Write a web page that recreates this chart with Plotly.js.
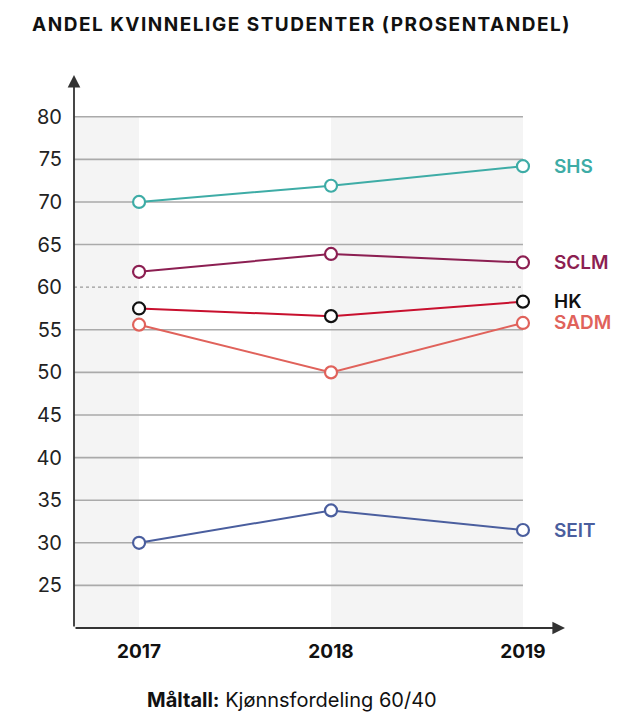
<!DOCTYPE html>
<html><head><meta charset="utf-8">
<script src="https://cdn.plot.ly/plotly-3.0.1.min.js"></script>
<style>html,body{margin:0;padding:0;background:#fff}#chart{width:634px;height:713px}
#chart .gtitle{letter-spacing:1.5px}</style>
</head><body><div id="chart"></div>
<script>
const years = [2017, 2018, 2019];
const seriesNames = ["SHS", "SCLM", "HK", "SADM", "SEIT"];
const shs  = [70.0, 71.9, 74.2];
const sclm = [61.8, 63.9, 62.9];
const hk   = [57.5, 56.6, 58.3];
const sadm = [55.6, 50.0, 55.8];
const seit = [30.0, 33.8, 31.5];
const yTicks = [25, 30, 35, 40, 45, 50, 55, 60, 65, 70, 75, 80];
const targetValue = 60;
const titleText = "ANDEL KVINNELIGE STUDENTER (PROSENTANDEL)";
const noteText = "<b>Måltall:</b> Kjønnsfordeling 60/40";

const lineColors = ["#3eaca6", "#8c1f52", "#c8102e", "#e0625b", "#4a5e9e"];
const markerColors = ["#3eaca6", "#8c1f52", "#111111", "#e0625b", "#4a5e9e"];
const allVals = [shs, sclm, hk, sadm, seit];

const xMin = 2016.661, xMax = 2019.219, yMin = 20, yMax = 84.9;
const font = "Inter, 'Liberation Sans', Arial, sans-serif";

const traces = allVals.map((v, i) => ({
  type: "scatter", mode: "lines+markers", x: years, y: v, name: seriesNames[i],
  line: {color: lineColors[i], width: 2},
  marker: {symbol: "circle", size: 12, color: "#ffffff", line: {color: markerColors[i], width: 2.2}},
  cliponaxis: false, hoverinfo: "skip"
}));

const shapes = [];
shapes.push({type: "rect", xref: "x", yref: "y", x0: xMin, x1: years[0], y0: yMin, y1: 80, fillcolor: "#f4f4f4", line: {width: 0}, layer: "below"});
shapes.push({type: "rect", xref: "x", yref: "y", x0: years[1], x1: years[2], y0: yMin, y1: 80, fillcolor: "#f4f4f4", line: {width: 0}, layer: "below"});
yTicks.forEach(t => {
  if (t === targetValue) {
    shapes.push({type: "line", xref: "x", yref: "y", x0: xMin, x1: years[2], y0: t, y1: t, line: {color: "#999", width: 1.2, dash: "dot"}, layer: "below"});
  } else {
    shapes.push({type: "line", xref: "x", yref: "y", x0: xMin, x1: years[2], y0: t, y1: t, line: {color: "#aaaaaa", width: 1.6}, layer: "below"});
  }
});

const annotations = [];
annotations.push({xref: "x", yref: "y", axref: "x", ayref: "y", x: xMin, y: yMax, ax: xMin, ay: yMin, text: "", showarrow: true, arrowhead: 2, arrowsize: 1.4, arrowwidth: 1.8, arrowcolor: "#333"});
annotations.push({xref: "x", yref: "y", axref: "x", ayref: "y", x: xMax, y: yMin, ax: xMin, ay: yMin, text: "", showarrow: true, arrowhead: 2, arrowsize: 1.4, arrowwidth: 1.8, arrowcolor: "#333"});
allVals.forEach((v, i) => {
  annotations.push({xref: "x", yref: "y", x: 2019.153, y: v[2], text: seriesNames[i], showarrow: false, xanchor: "left", yanchor: "middle",
    font: {family: font, size: 19, weight: 600, color: i === 2 ? "#111" : lineColors[i]}});
});
annotations.push({xref: "paper", yref: "paper", x: (292 - 74) / 491, y: -(700 - 628) / 553, text: noteText, showarrow: false, xanchor: "center", yanchor: "middle",
  font: {family: font, size: 20, color: "#111"}});

const layout = {
  width: 634, height: 713,
  margin: {l: 74, r: 69, t: 75, b: 85},
  paper_bgcolor: "#fff", plot_bgcolor: "rgba(0,0,0,0)",
  showlegend: false,
  title: {text: "<b>" + titleText + "</b>", x: 32 / 634, xref: "container", xanchor: "left", y: 1 - 24 / 713, yref: "container", yanchor: "middle",
    font: {family: font, size: 19, color: "#111"}},
  xaxis: {range: [xMin, xMax], tickvals: years, ticktext: years.map(y => "<b>" + y + "</b>"), showgrid: false, zeroline: false, showline: false,
    ticks: "outside", ticklen: 6, tickcolor: "rgba(0,0,0,0)", tickfont: {family: font, size: 19, color: "#111"}},
  yaxis: {range: [yMin, yMax], tickvals: yTicks, showgrid: false, zeroline: false, showline: false,
    ticks: "outside", ticklen: 7, tickcolor: "rgba(0,0,0,0)", tickfont: {family: font, size: 20, color: "#222"}},
  shapes: shapes, annotations: annotations
};
Plotly.newPlot("chart", traces, layout, {staticPlot: true, displayModeBar: false});
</script></body></html>
